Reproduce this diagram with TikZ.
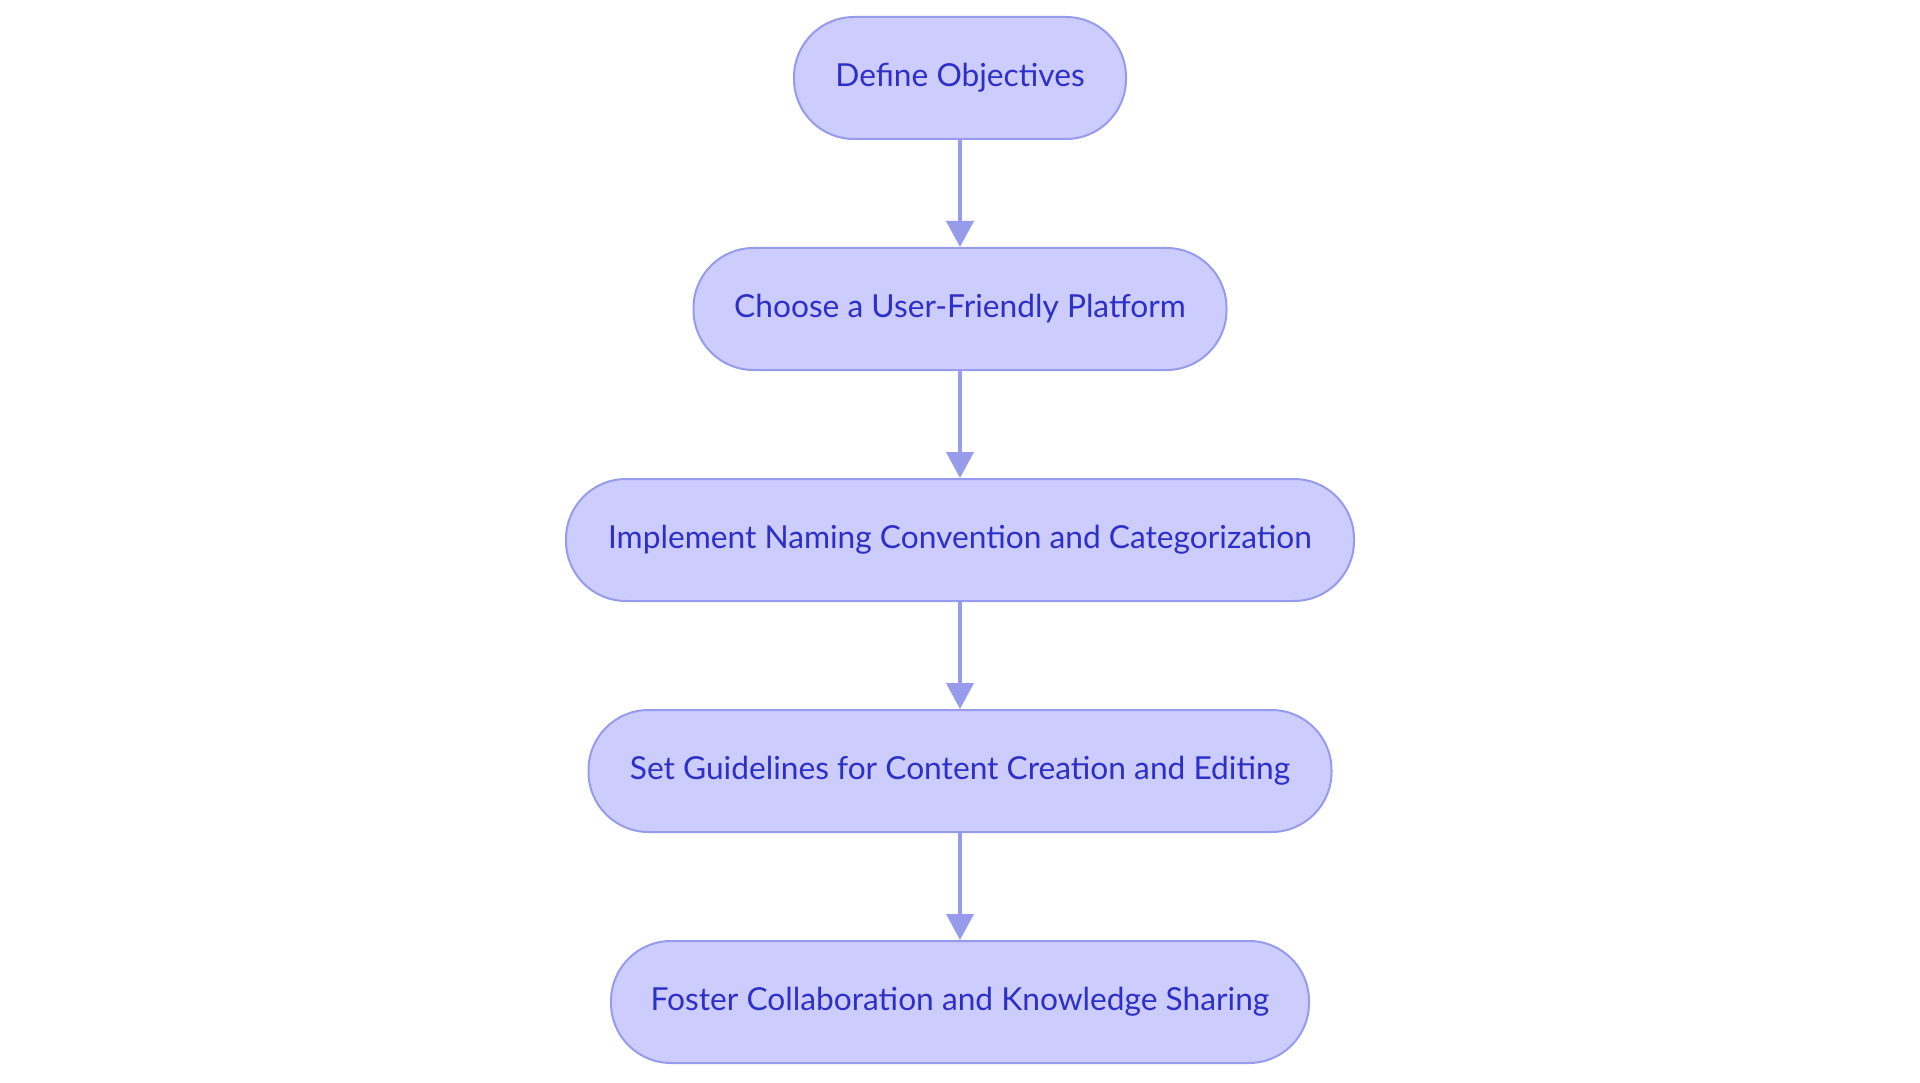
\documentclass[tikz,border=0pt]{standalone}
\usepackage{fontspec}
\setmainfont{Lato}
\usetikzlibrary{positioning,arrows.meta}
\definecolor{boxfill}{RGB}{204,204,255}
\definecolor{boxline}{RGB}{150,155,235}
\definecolor{boxtext}{RGB}{45,48,200}
\tikzset{
  stepnode/.style={draw=boxline,fill=boxfill,line width=2pt,rounded corners=60pt,
    minimum height=122pt,inner sep=0pt,text=boxtext,font=\fontsize{31.7}{36}\selectfont},
  flow/.style={draw=boxline,line width=4pt,-{Triangle[length=26pt,width=27pt]}}
}
\begin{document}
\begin{tikzpicture}[x=1pt,y=-1pt,node distance=107pt]
\useasboundingbox (0,0) rectangle (1920,1083);
\node[stepnode,minimum width=332pt] (objectives) at (960,78) {Define Objectives};
\node[stepnode,minimum width=533pt,below=of objectives] (platform) {Choose a User-Friendly Platform};
\node[stepnode,minimum width=788pt,below=of platform] (naming) {Implement Naming Convention and Categorization};
\node[stepnode,minimum width=743pt,below=of naming] (guidelines) {Set Guidelines for Content Creation and Editing};
\node[stepnode,minimum width=698pt,below=of guidelines] (sharing) {Foster Collaboration and Knowledge Sharing};
\draw[flow] (objectives) -- (platform);
\draw[flow] (platform) -- (naming);
\draw[flow] (naming) -- (guidelines);
\draw[flow] (guidelines) -- (sharing);
\end{tikzpicture}
\end{document}
